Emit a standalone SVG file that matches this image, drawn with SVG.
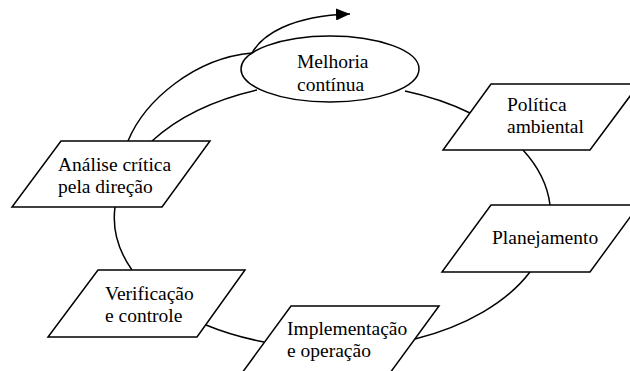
<svg xmlns="http://www.w3.org/2000/svg" width="630" height="371" viewBox="0 0 630 371">
<style>
.c{fill:none;stroke:#000;stroke-width:1.5}
.n{fill:#fff;stroke:#000;stroke-width:1.5}
text{font-family:'Liberation Serif','DejaVu Serif',serif;font-size:19.5px;fill:#000}
</style>
<defs>
<marker id="ah" markerUnits="userSpaceOnUse" markerWidth="15" markerHeight="12" refX="14" refY="6" orient="auto">
<path d="M0,0 L14,6 L0,12 z" fill="#000"/>
</marker>
</defs>
<rect width="630" height="371" fill="#fff"/>
<g id="connectors">
<path class="c" d="M405,91 A219 133 0 0 1 470,113"/>
<path class="c" d="M523,150 A219 133 0 0 1 550,205"/>
<path class="c" d="M530,272 A219 133 0 0 1 415,339"/>
<path class="c" d="M264,342 A219 133 0 0 1 206,325"/>
<path class="c" d="M132,270 A219 133 0 0 1 115,207"/>
<path class="c" d="M152,141 A219 133 0 0 1 257,90"/>
<path class="c" d="M128,141 C145,100 195,58 252,53"/>
<path class="c" d="M252,53 C262,35 290,16 350,14" marker-end="url(#ah)"/>
</g>
<g id="melhoria">
<ellipse class="n" cx="330" cy="69" rx="89" ry="33"/>
<text x="297" y="68" font-family="Liberation Serif, serif">Melhoria</text>
<text x="297" y="91" font-family="Liberation Serif, serif">contínua</text>
</g>
<g id="politica">
<polygon class="n" points="491,84 639,84 590,150 443,150"/>
<text x="507" y="111" font-family="Liberation Serif, serif">Política</text>
<text x="507" y="133" font-family="Liberation Serif, serif">ambiental</text>
</g>
<g id="planejamento">
<polygon class="n" points="491,205 639,205 590,272 442,272"/>
<text x="492" y="244" font-family="Liberation Serif, serif">Planejamento</text>
</g>
<g id="implementacao">
<polygon class="n" points="291,306 439,306 390,373 242,373"/>
<text x="287" y="335" font-family="Liberation Serif, serif">Implementação</text>
<text x="287" y="357" font-family="Liberation Serif, serif">e operação</text>
</g>
<g id="verificacao">
<polygon class="n" points="98,270 245,270 197,337 48,337"/>
<text x="105" y="300" font-family="Liberation Serif, serif">Verificação</text>
<text x="105" y="322" font-family="Liberation Serif, serif">e controle</text>
</g>
<g id="analise">
<polygon class="n" points="61,141 210,141 162,207 12,207"/>
<text x="58" y="171" font-family="Liberation Serif, serif">Análise crítica</text>
<text x="58" y="193" font-family="Liberation Serif, serif">pela direção</text>
</g>
</svg>
